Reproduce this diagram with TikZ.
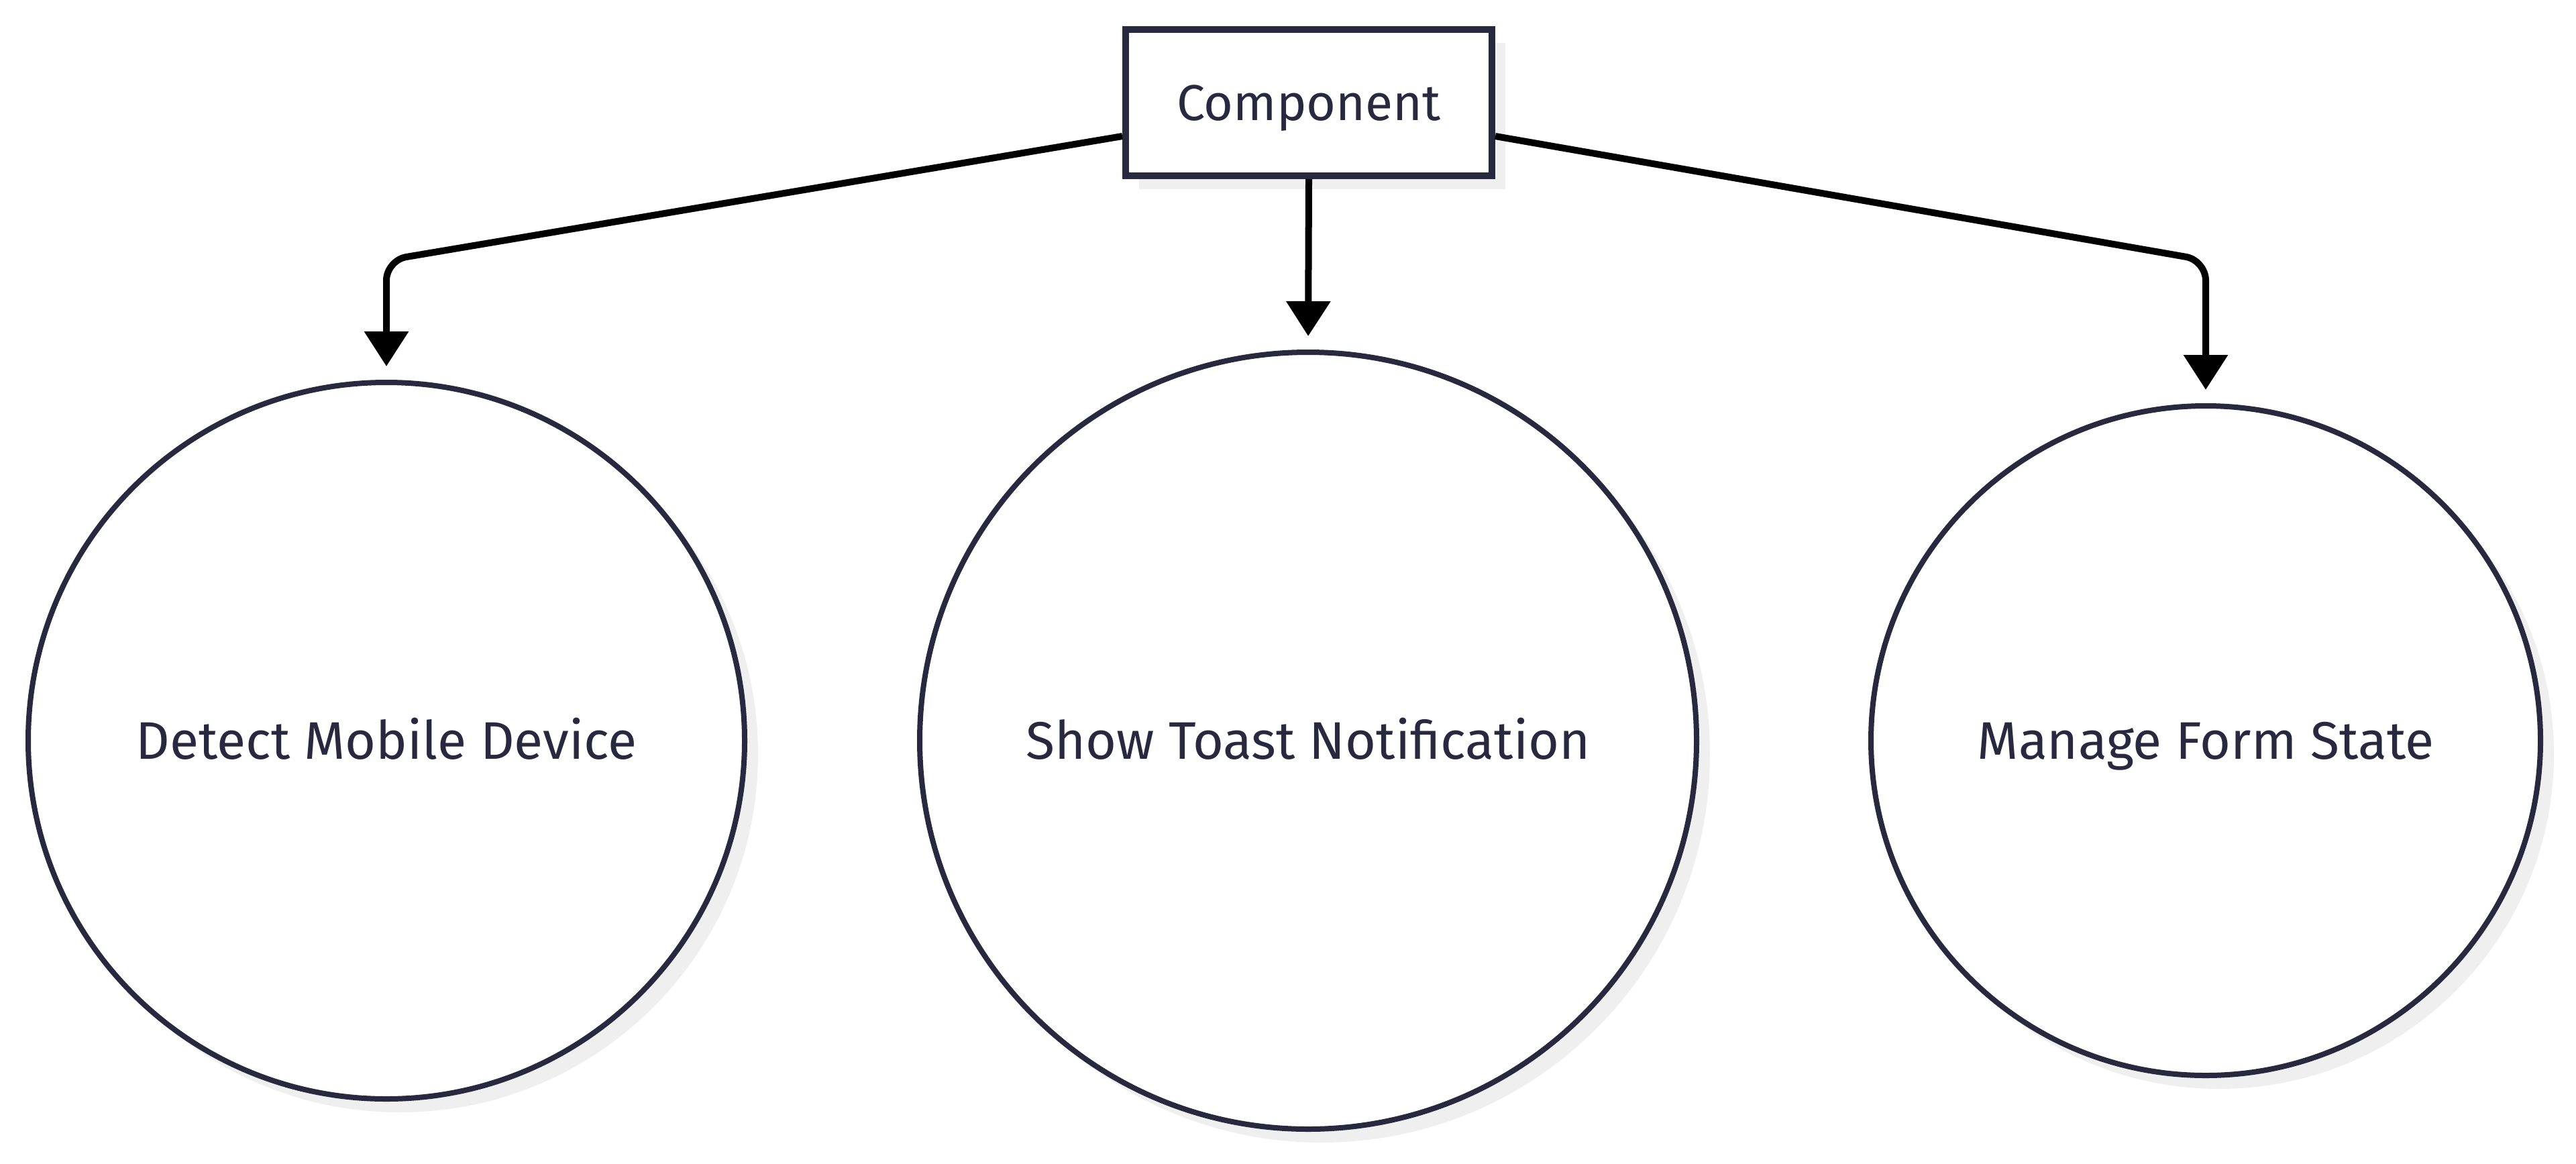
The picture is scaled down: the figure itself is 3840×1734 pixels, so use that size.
\documentclass[tikz,border=0pt]{standalone}
\usepackage{fontspec}
\setmainfont{Fira Sans}
\usetikzlibrary{arrows.meta,shadows}
\definecolor{edgec}{HTML}{28283F}
\definecolor{textc}{HTML}{28283F}
\definecolor{shadowc}{HTML}{EFEFEF}
\tikzset{
  shad/.style={drop shadow={shadow xshift=5pt,shadow yshift=-5pt,fill=shadowc,opacity=1}},
  boxnode/.style={draw=edgec,line width=2.5pt,fill=white,shad,minimum width=136.5pt,minimum height=54.5pt,inner sep=0pt,text=textc,font=\fontsize{18.8}{22}\selectfont,text height=13pt,text depth=0pt},
  circnode/.style={circle,draw=edgec,line width=2pt,fill=white,shad,inner sep=0pt,text=textc,font=\fontsize{19.7}{23}\selectfont,text height=13.6pt,text depth=0pt},
  conn/.style={draw=black,line width=2.5pt,rounded corners=7.5pt,-{Triangle[width=16pt,length=13pt]},shorten >=5pt}
}
\begin{document}
\begin{tikzpicture}[x=0.25pt,y=-0.25pt]
\useasboundingbox (0,0) rectangle (3840,1734);
\node[boxnode] (b) at (1951,153) {Component};
\node[circnode,minimum size=267pt] (l) at (576,1104) {Detect Mobile Device};
\node[circnode,minimum size=289.5pt] (m) at (1950,1104) {Show Toast Notification};
\node[circnode,minimum size=249.5pt] (r) at (3288,1104) {Manage Form State};
\coordinate (lb) at (576,388);
\coordinate (rb) at (3288,388);
\draw[conn] ([yshift=-12.5pt]b.west) -- (lb) -- (l.north);
\draw[conn] (b.south) -- (m.north);
\draw[conn] ([yshift=-12.5pt]b.east) -- (rb) -- (r.north);
\end{tikzpicture}
\end{document}
